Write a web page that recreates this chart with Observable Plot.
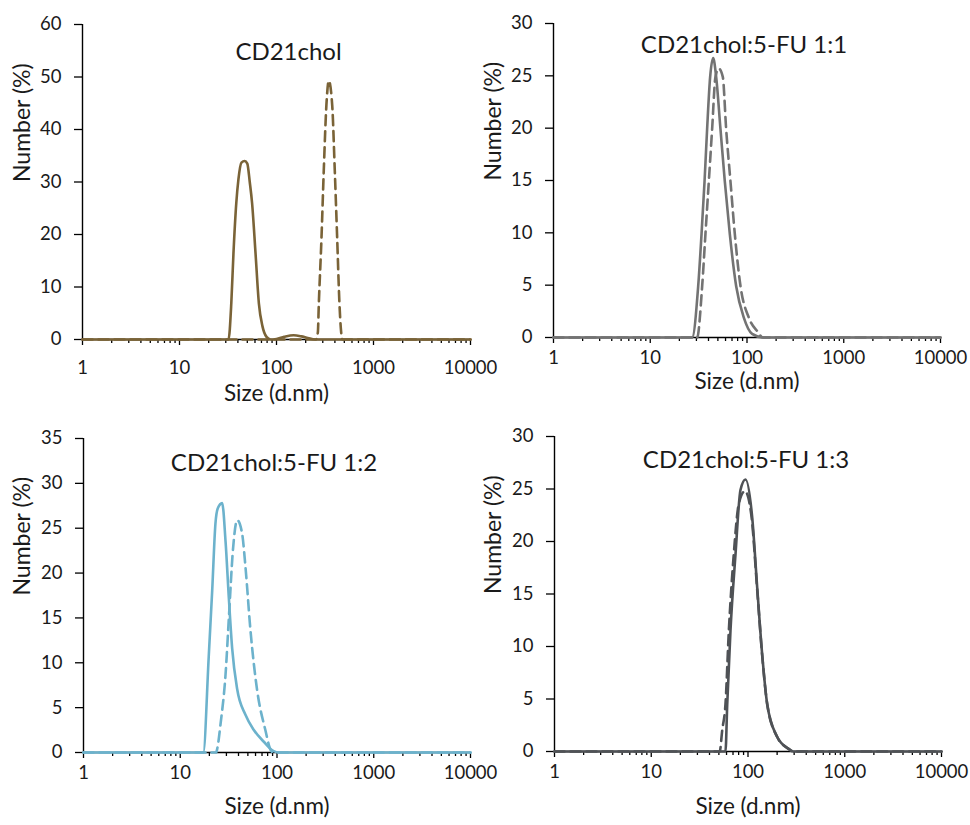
<!DOCTYPE html>
<html>
<head>
<meta charset="utf-8">
<script src="https://cdn.jsdelivr.net/npm/d3@7"></script>
<script src="https://cdn.jsdelivr.net/npm/@observablehq/plot@0.6"></script>
<style>
  body { margin: 0; background: #fff; }
  #wrap { position: relative; width: 970px; height: 825px; background: #fff; }
  .panel { position: absolute; }
  .panel svg { background: transparent !important; overflow: visible; }
</style>
</head>
<body>
<div id="wrap"></div>
<script>
// ---------- text ----------
const titles = ["CD21chol", "CD21chol:5-FU 1:1", "CD21chol:5-FU 1:2", "CD21chol:5-FU 1:3"];
const xLabel = "Size (d.nm)";
const yLabel = "Number (%)";

// ---------- axes ----------
const majorTicks = [1, 10, 100, 1000, 10000];
const minorTicks = [2, 3, 4, 5, 6, 7, 8, 9,
  20, 30, 40, 50, 60, 70, 80, 90,
  200, 300, 400, 500, 600, 700, 800, 900,
  2000, 3000, 4000, 5000, 6000, 7000, 8000, 9000];
const yTicks1 = [0, 10, 20, 30, 40, 50, 60];
const yTicks2 = [0, 5, 10, 15, 20, 25, 30];
const yTicks3 = [0, 5, 10, 15, 20, 25, 30, 35];
const yTicks4 = [0, 5, 10, 15, 20, 25, 30];

// ---------- data: size (d.nm) and number (%) ----------
// Panel 1: CD21chol
const p1SolidSize = [1, 32, 34.2, 36, 38.5, 40.5, 43.5, 47, 50, 53, 56, 60.8, 65.8, 71.7, 78.9, 87, 100, 120, 150, 180, 210, 250, 10000];
const p1SolidPct  = [0, 0, 6.9, 16.4, 26, 30.5, 33.7, 34, 33.5, 30, 26, 16.4, 6.9, 2.5, 0.5, 0, 0.1, 0.5, 0.8, 0.6, 0.3, 0, 0];
const p1DashSize  = [1, 255, 267, 273, 291, 307, 327, 346, 375, 399, 422, 446, 464, 480, 10000];
const p1DashPct   = [0, 0, 1.4, 6.7, 19.4, 32.1, 44.7, 49.3, 44.7, 32.1, 19.4, 6.7, 1.4, 0, 0];

// Panel 2: CD21chol:5-FU 1:1
const p2SolidSize = [1, 27.1, 31.3, 33.9, 36.4, 38.7, 41.6, 44.7, 48, 53.2, 59, 66.4, 77.3, 92.7, 113, 149, 10000];
const p2SolidPct  = [0, 0, 4.9, 9.9, 14.9, 19.9, 24.9, 26.7, 24.9, 19.9, 14.9, 9.9, 4.9, 1.9, 0.35, 0, 0];
const p2DashSize  = [1, 30.5, 34.4, 37.2, 40.3, 43.6, 47.2, 51.1, 56.2, 60.9, 67.5, 74.8, 85.7, 104.4, 130.6, 145, 10000];
const p2DashPct   = [0, 0, 4.9, 9.9, 14.9, 19.9, 24.9, 25.7, 24.9, 19.9, 14.9, 9.9, 4.9, 1.9, 0.5, 0, 0];

// Panel 3: CD21chol:5-FU 1:2
const p3SolidSize = [1, 17.3, 19.7, 21.4, 23.1, 24.4, 27.1, 29.4, 31.8, 34.4, 38.7, 47.2, 57.6, 73.1, 92.5, 105, 10000];
const p3SolidPct  = [0, 0, 10.7, 18.1, 25.5, 27.2, 27.8, 23.5, 17.2, 11.6, 7.1, 4.2, 2.5, 1.2, 0.15, 0, 0];
const p3DashSize  = [1, 23.5, 24.1, 26.1, 29.3, 32, 35, 38.8, 43.6, 47.2, 53.2, 62.4, 76, 85.7, 92, 10000];
const p3DashPct   = [0, 0, 0.4, 3.2, 8.5, 15.5, 22.5, 25.9, 24.4, 20.7, 13.6, 6.9, 2.45, 0.3, 0, 0];

// Panel 4: CD21chol:5-FU 1:3
const p4SolidSize = [1, 58.5, 61, 65.9, 74.3, 83.6, 94.2, 110.5, 124.5, 140, 158, 200, 263, 295, 10000];
const p4SolidPct  = [0, 0, 4.5, 11.5, 18.8, 24.9, 25.9, 22.3, 15.6, 9.3, 4.5, 1.4, 0.25, 0, 0];
const p4DashSize  = [1, 51, 54.1, 58.5, 63.4, 71.3, 80.4, 93, 108, 124.5, 140, 158, 200, 263, 295, 10000];
const p4DashPct   = [0, 0, 2, 4.5, 11.5, 18.8, 23.6, 24.8, 22.6, 15.4, 9.2, 4.5, 1.4, 0.25, 0, 0];

// ---------- styling / layout ----------
const colors = ["#7a6337", "#737373", "#6cb2cc", "#4f5256"];
const yMax = [60, 30, 35, 30];
const yTicks = [yTicks1, yTicks2, yTicks3, yTicks4];
const solids = [[p1SolidSize, p1SolidPct], [p2SolidSize, p2SolidPct], [p3SolidSize, p3SolidPct], [p4SolidSize, p4SolidPct]];
const dashes = [[p1DashSize, p1DashPct], [p2DashSize, p2DashPct], [p3DashSize, p3DashPct], [p4DashSize, p4DashPct]];

const layout = [
  {left: 0,   top: 0,   w: 485, h: 415, ml: 82, mr: 15, mt: 24, mb: 76, xpad: 15.5, xdy: 61, ydx: -60, tdx: 12, tdy: 18},
  {left: 485, top: 0,   w: 485, h: 415, ml: 68, mr: 30, mt: 23, mb: 78, xpad: 7.5,  xdy: 51, ydx: -60, tdx: -3, tdy: 12},
  {left: 0,   top: 415, w: 485, h: 410, ml: 83, mr: 15, mt: 23, mb: 73, xpad: 7.5,  xdy: 61, ydx: -61, tdx: -3, tdy: 15},
  {left: 485, top: 415, w: 485, h: 410, ml: 69, mr: 29, mt: 21, mb: 74, xpad: 7.5,  xdy: 62, ydx: -61, tdx: -2, tdy: 14}
];

const font = "Lato, 'Open Sans', sans-serif";
const toRows = ([s, v]) => s.map((x, k) => ({x, y: v[k]}));

function panel(i) {
  const L = layout[i];
  const c = colors[i];
  return Plot.plot({
    width: L.w, height: L.h,
    marginLeft: L.ml, marginRight: L.mr, marginTop: L.mt, marginBottom: L.mb,
    style: {fontFamily: font, fontSize: "18px", color: "#1a1a1a", background: "transparent", overflow: "visible"},
    x: {type: "log", domain: [1, 10000]},
    y: {domain: [0, yMax[i]]},
    marks: [
      Plot.axisY({ticks: yTicks[i], tickSize: 8, tickPadding: 13, label: null, fontSize: 18.5, strokeWidth: 1.3, stroke: "#000"}),
      Plot.axisX({ticks: minorTicks, tickSize: 4, tickFormat: () => "", label: null, strokeWidth: 1.3, stroke: "#000"}),
      Plot.axisX({ticks: majorTicks, tickSize: 6, tickPadding: L.xpad, tickFormat: d => String(d), label: null, fontSize: 18.5, strokeWidth: 1.3, stroke: "#000"}),
      Plot.ruleX([1], {stroke: "#000", strokeWidth: 1.4}),
      Plot.ruleY([0], {stroke: "#000", strokeWidth: 1.4}),
      Plot.line(toRows(dashes[i]), {x: "x", y: "y", stroke: c, strokeWidth: 2.6, strokeDasharray: "10,6", curve: "monotone-x"}),
      Plot.line(toRows(solids[i]), {x: "x", y: "y", stroke: c, strokeWidth: 2.6, curve: "monotone-x"}),
      Plot.text([titles[i]], {text: d => d, frameAnchor: "top", dx: L.tdx, dy: L.tdy, fontSize: 24}),
      Plot.text([xLabel], {text: d => d, frameAnchor: "bottom", dy: L.xdy, fontSize: 22.5}),
      Plot.text([yLabel], {text: d => d, frameAnchor: "left", rotate: -90, dx: L.ydx, fontSize: 23})
    ]
  });
}

const wrap = document.getElementById("wrap");
for (let i = 0; i < 4; i++) {
  const div = document.createElement("div");
  div.className = "panel";
  div.style.left = layout[i].left + "px";
  div.style.top = layout[i].top + "px";
  div.appendChild(panel(i));
  wrap.appendChild(div);
}
</script>
</body>
</html>
